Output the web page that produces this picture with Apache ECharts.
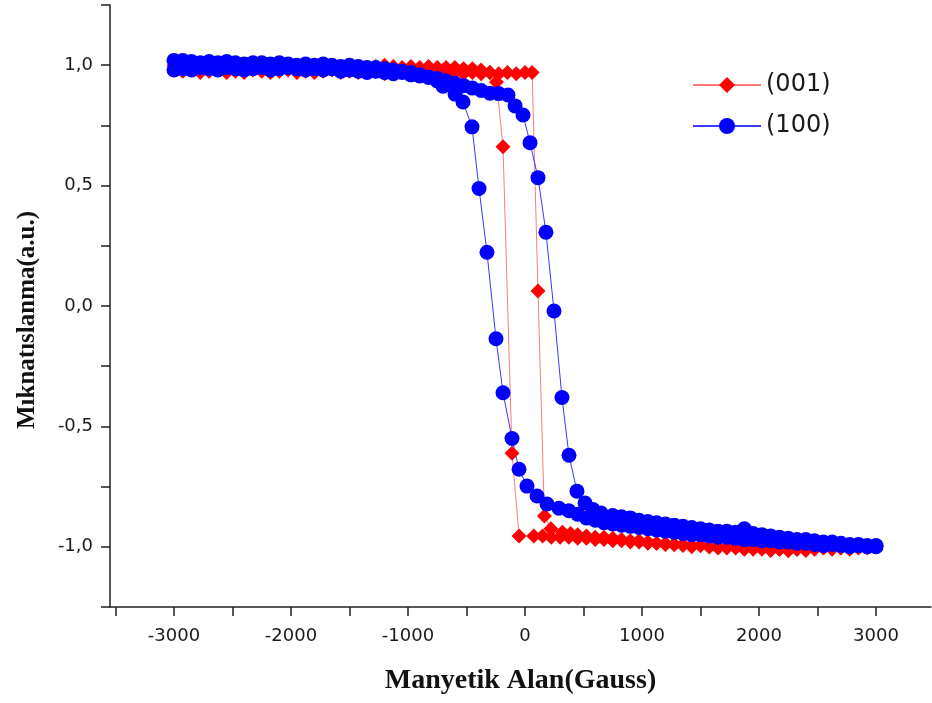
<!DOCTYPE html>
<html>
<head>
<meta charset="utf-8">
<script src="https://cdn.jsdelivr.net/npm/echarts@6/dist/echarts.min.js"></script>
<style>
  html, body { margin: 0; padding: 0; background: #fff; }
  #chart { width: 932px; height: 703px; }
</style>
</head>
<body>
<div id="chart"></div>
<script>
// (001) sample - sweep up, field in Gauss
var redUpField = [
  -3000, -2925, -2850, -2775, -2700, -2625, -2550, -2475, -2400, -2325,
  -2250, -2175, -2100, -2025, -1950, -1875, -1800, -1725, -1650, -1575,
  -1500, -1425, -1350, -1275, -1200, -1125, -1050, -975, -900, -825,
  -750, -675, -600, -525, -450, -375, -300, -225, -150, -75,
  0, 61, 111, 166, 221, 320, 390, 450, 525, 600,
  675, 750, 825, 900, 975, 1050, 1125, 1200, 1275, 1350,
  1425, 1500, 1575, 1650, 1725, 1800, 1875, 1950, 2025, 2100,
  2175, 2250, 2325, 2400, 2475, 2550, 2625, 2700, 2775, 2850,
  2925, 3000
];
var redUpMag = [
  0.98, 0.975, 0.98, 0.97, 0.975, 0.98, 0.97, 0.975, 0.97, 0.98,
  0.975, 0.97, 0.975, 0.98, 0.97, 0.975, 0.97, 0.975, 0.98, 0.97,
  0.975, 0.97, 0.97, 0.975, 0.965, 0.97, 0.975, 0.965, 0.97, 0.965,
  0.97, 0.965, 0.97, 0.965, 0.97, 0.965, 0.97, 0.965, 0.97, 0.965,
  0.97, 0.97, 0.062, -0.872, -0.925, -0.94, -0.945, -0.95, -0.955, -0.96,
  -0.96, -0.965, -0.97, -0.975, -0.975, -0.98, -0.985, -0.985, -0.99, -0.99,
  -0.995, -0.995, -1.0, -1.0, -1.005, -1.0, -1.005, -1.01, -1.005, -1.01,
  -1.01, -1.015, -1.01, -1.01, -1.005, -1.0, -1.005, -1.0, -1.0, -1.005,
  -1.0, -1.0
];
// (001) sample - sweep down
var redDownField = [
  3000, 2925, 2850, 2775, 2700, 2625, 2550, 2475, 2400, 2325,
  2250, 2175, 2100, 2025, 1950, 1875, 1800, 1725, 1650, 1575,
  1500, 1425, 1350, 1275, 1200, 1125, 1050, 975, 900, 825,
  750, 675, 600, 525, 450, 375, 300, 225, 150, 75,
  -51, -111, -188, -244, -300, -375, -450, -525, -600, -675,
  -750, -825, -900, -975, -1050, -1125, -1200, -1275, -1350, -1425,
  -1500, -1575, -1650, -1725, -1800, -1875, -1950, -2025, -2100, -2175,
  -2250, -2325, -2400, -2475, -2550, -2625, -2700, -2775, -2850, -2925,
  -3000
];
var redDownMag = [
  -1.0, -1.005, -1.0, -1.01, -1.005, -1.01, -1.005, -1.01, -1.015, -1.01,
  -1.015, -1.01, -1.015, -1.01, -1.005, -1.01, -1.005, -1.0, -1.005, -1.0,
  -0.995, -1.0, -0.995, -0.99, -0.99, -0.985, -0.985, -0.98, -0.98, -0.975,
  -0.975, -0.97, -0.97, -0.965, -0.965, -0.96, -0.96, -0.96, -0.955, -0.955,
  -0.955, -0.612, 0.661, 0.93, 0.97, 0.98, 0.985, 0.985, 0.99, 0.99,
  0.99, 0.995, 0.99, 0.995, 0.99, 0.995, 1.0, 0.995, 0.99, 0.995,
  1.0, 0.995, 0.99, 0.995, 1.0, 0.995, 0.99, 0.995, 1.0, 0.995,
  0.99, 0.995, 1.0, 0.995, 0.99, 0.995, 1.0, 0.995, 0.99, 0.995,
  1.0
];

// (100) sample - sweep up
var blueUpField = [
  -3000, -2925, -2850, -2775, -2700, -2625, -2550, -2475, -2400, -2325,
  -2250, -2175, -2100, -2025, -1950, -1875, -1800, -1725, -1650, -1575,
  -1500, -1425, -1350, -1275, -1200, -1125, -1050, -975, -900, -825,
  -750, -675, -600, -525, -450, -375, -299, -225, -145, -85,
  -17, 43, 111, 179, 248, 316, 376, 444, 513, 581,
  650, 750, 825, 900, 975, 1050, 1125, 1200, 1275, 1350,
  1425, 1500, 1575, 1650, 1725, 1800, 1875, 1950, 2025, 2100,
  2175, 2250, 2325, 2400, 2475, 2550, 2625, 2700, 2775, 2850,
  2925, 3000
];
var blueUpMag = [
  0.98, 0.985, 0.98, 0.99, 0.985, 0.98, 0.99, 0.985, 0.98, 0.985,
  0.99, 0.98, 0.985, 0.99, 0.985, 0.98, 0.985, 0.98, 0.985, 0.975,
  0.98, 0.975, 0.97, 0.975, 0.97, 0.965, 0.97, 0.96, 0.955, 0.95,
  0.945, 0.935, 0.925, 0.915, 0.905, 0.895, 0.884, 0.882, 0.876, 0.831,
  0.793, 0.678, 0.533, 0.306, -0.021, -0.38, -0.62, -0.769, -0.818, -0.845,
  -0.86, -0.87, -0.875, -0.88, -0.89, -0.895, -0.9, -0.905, -0.91, -0.915,
  -0.92, -0.925, -0.93, -0.935, -0.935, -0.94, -0.925, -0.945, -0.95, -0.955,
  -0.96, -0.965, -0.97, -0.97, -0.975, -0.98, -0.98, -0.985, -0.99, -0.99,
  -0.995, -0.995
];
// (100) sample - sweep down
var blueDownField = [
  3000, 2925, 2850, 2775, 2700, 2625, 2550, 2475, 2400, 2325,
  2250, 2175, 2100, 2025, 1950, 1875, 1800, 1725, 1650, 1575,
  1500, 1425, 1350, 1275, 1200, 1125, 1050, 975, 900, 825,
  750, 675, 600, 525, 450, 375, 290, 188, 103, 17,
  -51, -111, -188, -248, -325, -393, -453, -530, -598, -701,
  -750, -825, -900, -975, -1050, -1125, -1200, -1275, -1350, -1425,
  -1500, -1575, -1650, -1725, -1800, -1875, -1950, -2025, -2100, -2175,
  -2250, -2325, -2400, -2475, -2550, -2625, -2700, -2775, -2850, -2925,
  -3000
];
var blueDownMag = [
  -1.0, -1.0, -0.995, -1.0, -0.995, -0.99, -0.995, -0.99, -0.985, -0.985,
  -0.98, -0.98, -0.975, -0.975, -0.97, -0.97, -0.965, -0.96, -0.96, -0.955,
  -0.95, -0.95, -0.945, -0.94, -0.935, -0.93, -0.925, -0.92, -0.915, -0.91,
  -0.905, -0.9, -0.89, -0.88, -0.865, -0.85, -0.84, -0.822, -0.789, -0.748,
  -0.678, -0.55, -0.36, -0.136, 0.223, 0.488, 0.744, 0.847, 0.88, 0.913,
  0.935, 0.95, 0.96, 0.97, 0.975, 0.98, 0.985, 0.99, 0.99, 0.995,
  1.0, 0.995, 1.0, 1.005, 1.0, 1.005, 1.0, 1.005, 1.01, 1.005,
  1.01, 1.01, 1.005, 1.01, 1.015, 1.01, 1.015, 1.01, 1.015, 1.02,
  1.02
];

var xTicks = [-3000, -2000, -1000, 0, 1000, 2000, 3000];
var yTicks = [-1.0, -0.5, 0.0, 0.5, 1.0];

function pairs(fields, mags) {
  var out = [];
  for (var i = 0; i < fields.length; i++) out.push([fields[i], mags[i]]);
  return out;
}

var redData = pairs(redUpField, redUpMag).concat(pairs(redDownField, redDownMag));
var blueData = pairs(blueUpField, blueUpMag).concat(pairs(blueDownField, blueDownMag));

var chart = echarts.init(document.getElementById("chart"));

var option = {
  animation: false,
  backgroundColor: "#fff",
  grid: { left: 110, right: 1, top: 5, bottom: 96 },
  legend: {
    orient: "vertical",
    left: 687,
    top: 68,
    itemWidth: 68,
    itemHeight: 20,
    itemGap: 17,
    textStyle: { fontFamily: "DejaVu Sans", fontSize: 24, color: "#1a1a1a" },
    data: ["(001)", "(100)"],
  },
  xAxis: {
    type: "value",
    // axis runs a little past the plotted field range on both sides
    min: -3547,
    max: 3470,
    splitNumber: 14,
    name: "Manyetik Alan(Gauss)",
    nameLocation: "middle",
    nameGap: 60,
    nameTextStyle: {
      fontFamily: "Liberation Serif",
      fontWeight: "bold",
      fontSize: 28,
      color: "#111",
    },
    axisLine: { onZero: false, lineStyle: { color: "#222", width: 1.5 } },
    axisTick: { inside: false, length: 9, lineStyle: { color: "#222", width: 1.5 } },
    axisLabel: {
      margin: 20,
      fontFamily: "DejaVu Sans",
      fontSize: 18,
      color: "#1a1a1a",
      showMinLabel: false,
      showMaxLabel: false,
      formatter: function (v) {
        return xTicks.indexOf(v) >= 0 ? String(v) : "";
      },
    },
    splitLine: { show: false },
  },
  yAxis: {
    type: "value",
    min: -1.25,
    max: 1.25,
    interval: 0.25,
    name: "Mıknatıslanma(a.u.)",
    nameLocation: "middle",
    nameGap: 70,
    nameTextStyle: {
      fontFamily: "Liberation Serif",
      fontWeight: "bold",
      fontSize: 25,
      color: "#111",
      padding: [0, 28, 0, 0],
    },
    axisLine: { show: true, onZero: false, lineStyle: { color: "#222", width: 1.5 } },
    axisTick: { show: true, length: 9, lineStyle: { color: "#222", width: 1.5 } },
    axisLabel: {
      margin: 17,
      fontFamily: "DejaVu Sans",
      fontSize: 18,
      color: "#1a1a1a",
      formatter: function (v) {
        var r = Math.round(v * 100) / 100;
        if (yTicks.indexOf(r) < 0) return "";
        return r.toFixed(1).replace(".", ",");
      },
    },
    splitLine: { show: false },
  },
  series: [
    {
      name: "(001)",
      type: "line",
      data: redData,
      symbol: "diamond",
      symbolSize: 15,
      showAllSymbol: true,
      itemStyle: { color: "#ff0000" },
      lineStyle: { color: "#ff7a7a", width: 1 },
    },
    {
      name: "(100)",
      type: "line",
      data: blueData,
      symbol: "circle",
      symbolSize: 15,
      showAllSymbol: true,
      itemStyle: { color: "#0000ff" },
      lineStyle: { color: "#3a3aff", width: 1 },
    },
  ],
};

chart.setOption(option);
</script>
</body>
</html>
